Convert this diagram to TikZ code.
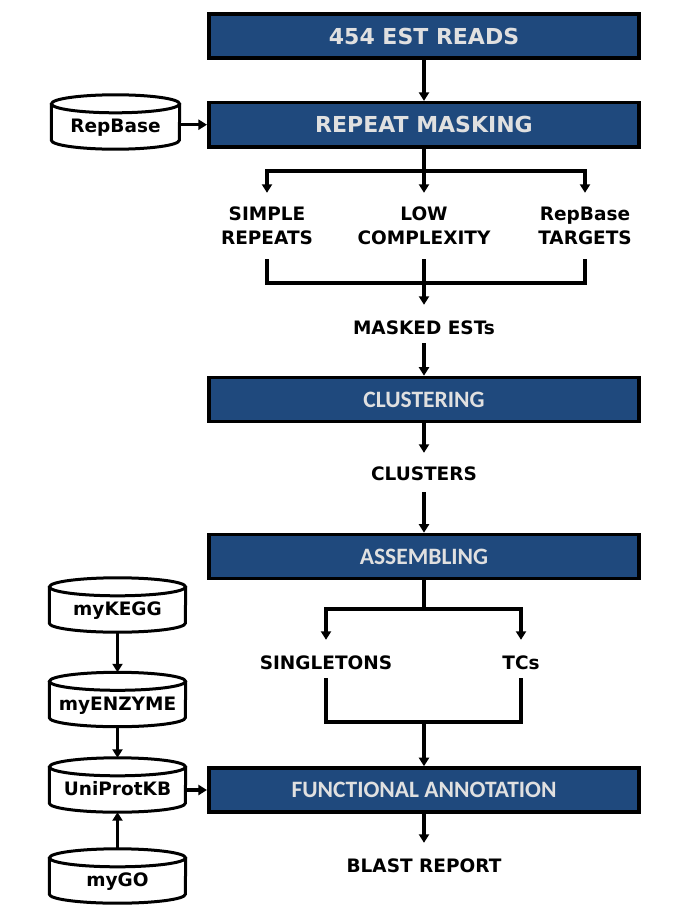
\documentclass[tikz,border=0pt]{standalone}
\usepackage{fontspec}
\setmainfont{DejaVu Sans}
\newfontfamily\carl{Carlito}
\usetikzlibrary{arrows.meta}
\definecolor{boxblue}{HTML}{1F497D}
\definecolor{boxtext}{HTML}{E0E0E0}
\tikzset{
  stage/.style={draw=black, line width=3.6pt, fill=boxblue, text=boxtext,
    minimum width=430.5pt, minimum height=44pt, inner sep=0pt},
  stagea/.style={stage, font=\fontsize{22}{26}\selectfont\bfseries},
  stageb/.style={stage, font=\carl\fontsize{23.5}{28}\selectfont\bfseries},
  lbl/.style={font=\fontsize{18.5}{24}\selectfont\bfseries, inner sep=0pt, align=center},
  db/.style={font=\fontsize{18.5}{24}\selectfont\bfseries, inner sep=0pt,
    minimum width=136pt, minimum height=54pt, text height=21pt, text depth=0pt},
  conn/.style={line width=3.2pt, draw=black},
  arr/.style={conn, -{Triangle[width=10pt,length=8.5pt]}},
  cylline/.style={line width=3pt, draw=black},
}
\newcommand{\dbshape}[2]{%
  \draw[cylline] ([yshift=-9pt]#1.north west) -- ([yshift=9pt]#1.south west)
    arc[start angle=180, end angle=360, x radius=#2, y radius=9pt]
    -- ([yshift=-9pt]#1.north east);
  \draw[cylline] ([yshift=-9pt]#1.north) ellipse[x radius=#2, y radius=9pt];
}
\begin{document}
\begin{tikzpicture}[x=1pt,y=1pt]
\useasboundingbox (0,0) rectangle (685,-923);
\fill[white] (0,0) rectangle (685,-923);

% main column
\node[stagea] (est) at (424,-36) {454 EST READS};
\node[stagea] (rm) at (424,-124.7) {REPEAT MASKING};
\node[lbl, minimum height=66pt] (sr) at (267,-226) {SIMPLE\\REPEATS};
\node[lbl, minimum height=66pt] (lc) at (424,-226) {LOW\\COMPLEXITY};
\node[lbl, minimum height=66pt] (rt) at (585,-226) {RepBase\\TARGETS};
\node[lbl, anchor=base, text height=29pt, text depth=9pt] (me) at (424,-334) {MASKED ESTs};
\node[stageb] (cl) at (424,-399.5) {CLUSTERING};
\node[lbl, anchor=base, text height=27pt, text depth=12pt] (cls) at (424,-480) {CLUSTERS};
\node[stageb] (as) at (424,-556.5) {ASSEMBLING};
\node[lbl, anchor=base, text height=29pt, text depth=9pt] (sg) at (326,-669) {SINGLETONS};
\node[lbl, anchor=base, text height=29pt, text depth=9pt] (tc) at (521,-669) {TCs};
\node[stageb] (fa) at (424,-790) {FUNCTIONAL ANNOTATION};
\node[lbl, anchor=base, text height=29pt, text depth=2pt] (br) at (424,-872) {BLAST REPORT};

% databases
\node[db, minimum width=128pt] (rb) at (115.5,-122) {RepBase};
\node[db] (kegg) at (117.5,-605) {myKEGG};
\node[db] (enz) at (117.5,-699.5) {myENZYME};
\node[db] (uni) at (117.5,-785) {UniProtKB};
\node[db] (go) at (117.5,-876) {myGO};
\dbshape{rb}{64pt}
\dbshape{kegg}{68pt}
\dbshape{enz}{68pt}
\dbshape{uni}{68pt}
\dbshape{go}{68pt}

% junctions
\coordinate (j1) at (424,-171);
\coordinate (j2) at (424,-283);
\coordinate (j3) at (424,-609);
\coordinate (j4) at (424,-722);

% connectors
\draw[arr] (est) -- (rm);
\draw[conn] (rm.south) -- (j1);
\draw[arr] (j1) -| (sr.north);
\draw[arr] (j1) -| (rt.north);
\draw[arr] (j1) -- (lc.north);
\draw[conn] (sr.south) |- (j2);
\draw[conn] (rt.south) |- (j2);
\draw[conn] (lc.south) -- (j2);
\draw[arr] (j2) -- (me.north);
\draw[arr] (me.south) -- (cl.north);
\draw[arr] (cl.south) -- (cls.north);
\draw[arr] (cls.south) -- (as.north);
\draw[conn] (as.south) -- (j3);
\draw[arr] (j3) -| (sg.north);
\draw[arr] (j3) -| (tc.north);
\draw[conn] (sg.south) |- (j4);
\draw[conn] (tc.south) |- (j4);
\draw[arr] (j4) -- (fa.north);
\draw[arr] (fa.south) -- (br.north);

\draw[arr] (rb.east |- rm.west) -- (rm.west);
\draw[arr] (kegg.south) -- (enz.north);
\draw[arr] (enz.south) -- (uni.north);
\draw[arr] (go.north) -- (uni.south);
\draw[arr] (uni.east |- fa.west) -- (fa.west);
\end{tikzpicture}
\end{document}
